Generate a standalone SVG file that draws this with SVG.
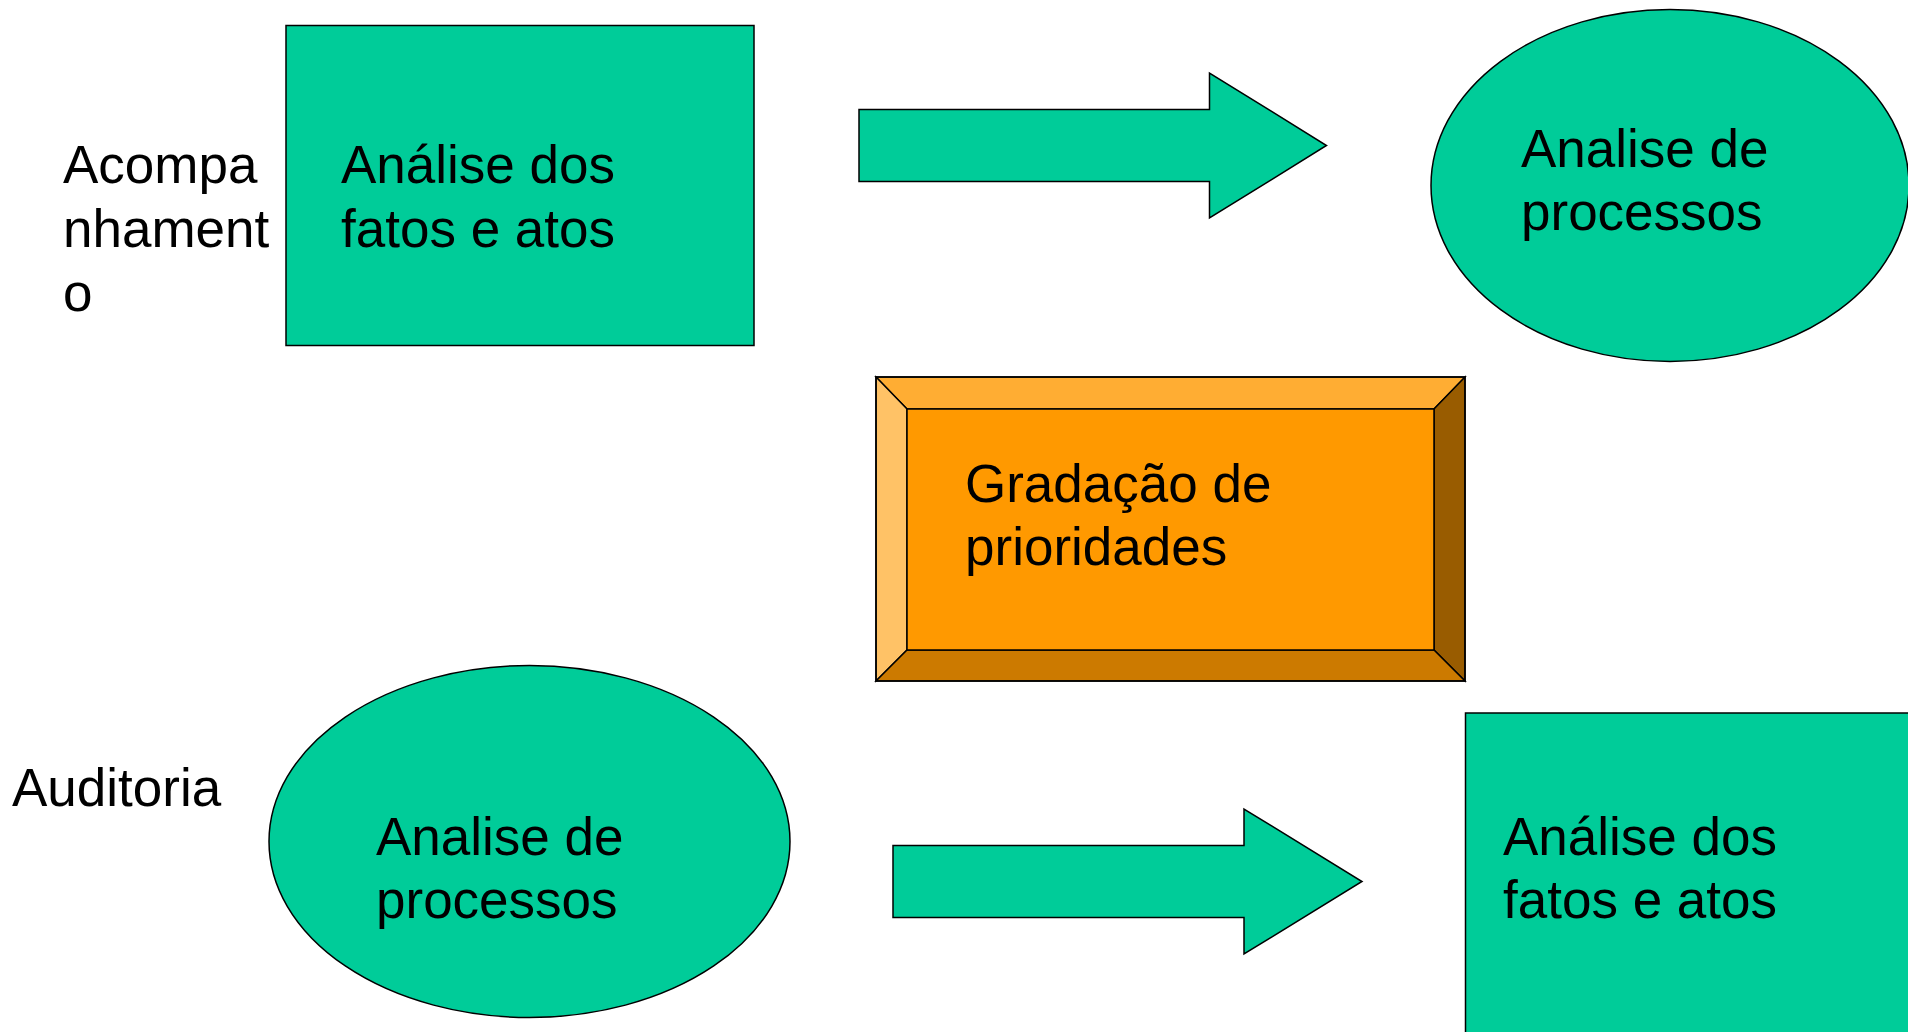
<svg xmlns="http://www.w3.org/2000/svg" width="1908" height="1032" viewBox="0 0 1908 1032">
<style>
.g{fill:#00CC99;stroke:#000;stroke-width:1.5}
.t{font-family:"Liberation Sans",Arial,sans-serif;font-size:53px;fill:#000}
.b{stroke:#000;stroke-width:1.5;stroke-linejoin:miter}
</style>
<rect width="1908" height="1032" fill="#fff"/>
<g id="label-acompanhamento">
<text class="t" x="63" y="183">Acompa</text>
<text class="t" x="63" y="247">nhament</text>
<text class="t" x="63" y="311">o</text>
</g>
<g id="label-auditoria">
<text class="t" x="12" y="806">Auditoria</text>
</g>
<g id="node-fatos-top">
<rect class="g" x="286" y="25.5" width="468" height="320"/>
<text class="t" x="341" y="183">Análise dos</text>
<text class="t" x="341" y="247">fatos e atos</text>
</g>
<g id="node-processos-top">
<ellipse class="g" cx="1670" cy="185.5" rx="239" ry="176"/>
<text class="t" x="1521" y="167">Analise de</text>
<text class="t" x="1521" y="230">processos</text>
</g>
<g id="node-gradacao">
<polygon class="b" fill="#FFAD33" points="876,377 1465,377 1434,409 907,409"/>
<polygon class="b" fill="#FFC266" points="876,377 907,409 907,650 876,681"/>
<polygon class="b" fill="#995C00" points="1465,377 1465,681 1434,650 1434,409"/>
<polygon class="b" fill="#CC7A00" points="876,681 907,650 1434,650 1465,681"/>
<rect class="b" fill="#FF9900" x="907" y="409" width="527" height="241"/>
<rect x="876" y="377" width="589" height="304" fill="none" stroke="#000" stroke-width="1.5"/>
<text class="t" x="965" y="502">Gradação de</text>
<text class="t" x="965" y="565">prioridades</text>
</g>
<g id="node-processos-bottom">
<ellipse class="g" cx="529.5" cy="841.5" rx="260.5" ry="176"/>
<text class="t" x="376" y="855">Analise de</text>
<text class="t" x="376" y="918">processos</text>
</g>
<g id="node-fatos-bottom">
<rect class="g" x="1465.5" y="713" width="468" height="330"/>
<text class="t" x="1503" y="855">Análise dos</text>
<text class="t" x="1503" y="918">fatos e atos</text>
</g>
<g id="connectors">
<polygon class="g" points="859,109.5 1209.5,109.5 1209.5,73 1326.5,145.5 1209.5,218 1209.5,181.5 859,181.5"/>
<polygon class="g" points="893,845.5 1244,845.5 1244,809 1362,881.5 1244,954 1244,917.5 893,917.5"/>
</g>
</svg>
